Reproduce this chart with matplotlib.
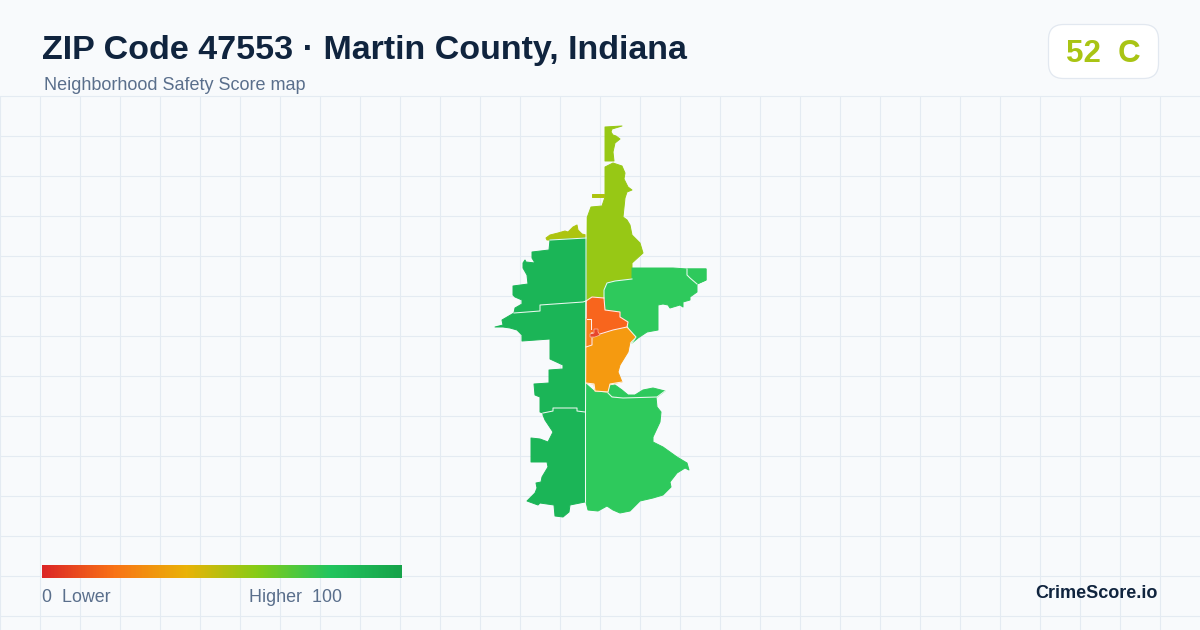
import numpy as np
import matplotlib
matplotlib.use("Agg")
import matplotlib.pyplot as plt
from matplotlib.colors import LinearSegmentedColormap
from matplotlib.patches import FancyBboxPatch, Polygon

plt.rcParams['font.family'] = ['Liberation Sans', 'DejaVu Sans']

# Text
title = "ZIP Code 47553 · Martin County, Indiana"
subtitle = "Neighborhood Safety Score map"
score_label = "52  C"
brand = "CrimeScore.io"
legend_left = "0  Lower"
legend_right = "Higher  100"

# Legend colour ramp
ramp_stops = [0, 0.2, 0.4, 0.6, 0.8, 1]
ramp_colors = ["#dc2626", "#f97316", "#eab308", "#84cc16", "#22c55e", "#16a34a"]

# Outlines, in pixels of the 1200x630 image
north_sliver = [(605, 127), (622, 126), (612, 129), (611, 132), (613, 135), (616, 136), (620, 139),
                (615, 143), (613, 152), (614, 161), (605, 161)]
north_main = [(605, 167), (613, 163), (622, 166), (625, 173), (624, 179), (628, 187), (632, 190),
              (627, 192), (625, 198), (623, 217), (627, 220), (630, 225), (632, 235), (640, 243),
              (643, 253), (632, 263), (632, 279), (615, 281), (607, 283), (604, 290), (604, 298),
              (592, 297), (586, 301), (587, 218), (591, 207), (602, 206), (605, 197)]
north_islet = [(592, 194), (604, 194), (604, 197), (592, 197)]
northwest_cap = [(546, 238), (550, 235), (558, 233), (565, 231), (568, 232), (573, 227), (577, 225),
                 (578, 230), (582, 234), (586, 235), (586, 238), (550, 240), (547, 240)]
west_north = [(550, 240), (586, 238), (586, 301), (583, 302), (540, 305), (540, 311), (514, 313),
              (515, 308), (522, 304), (522, 300), (515, 297), (513, 295), (513, 286), (528, 284),
              (527, 275), (523, 268), (523, 263), (525, 260), (526, 262), (535, 263), (532, 258),
              (532, 252), (549, 250)]
west_mid = [(514, 313), (540, 311), (540, 305), (583, 302), (585, 302), (585, 412), (577, 411),
            (577, 408), (553, 408), (553, 411), (543, 413), (540, 412), (540, 397), (535, 395),
            (534, 384), (549, 383), (549, 370), (563, 369), (563, 365), (550, 359), (550, 339),
            (522, 341), (522, 335), (517, 330), (510, 328), (503, 327), (495, 327), (503, 325),
            (502, 320)]
west_south = [(543, 413), (553, 411), (553, 408), (577, 408), (577, 411), (585, 412), (585, 502),
              (570, 505), (569, 512), (563, 517), (555, 516), (554, 505), (540, 503), (538, 505),
              (527, 501), (535, 493), (537, 488), (536, 483), (541, 482), (542, 477), (548, 467),
              (547, 462), (531, 462), (531, 438), (540, 439), (548, 442), (553, 432), (545, 420),
              (543, 415)]
east_north = [(632, 268), (673, 268), (687, 269), (706, 269), (706, 280), (697, 284), (697, 292),
              (690, 297), (690, 300), (683, 302), (683, 307), (680, 305), (670, 308), (668, 305),
              (663, 304), (658, 305), (658, 330), (647, 332), (638, 338), (632, 343), (636, 337),
              (629, 330), (628, 322), (620, 317), (620, 312), (605, 310), (604, 290), (607, 283),
              (615, 281), (632, 279)]
east_corner = [(687, 269), (706, 269), (706, 280), (697, 284), (690, 278), (687, 275)]
east_south = [(586, 384), (595, 392), (608, 393), (612, 397), (623, 398), (656, 397), (657, 407),
              (661, 412), (660, 422), (653, 437), (653, 442), (663, 447), (677, 457), (687, 463),
              (689, 470), (685, 468), (677, 473), (670, 482), (671, 487), (663, 495), (653, 498),
              (640, 501), (630, 511), (620, 513), (613, 510), (607, 506), (598, 511), (588, 510),
              (586, 502)]
east_south_strip = [(609, 386), (615, 385), (622, 390), (628, 395), (635, 395), (643, 390),
                    (653, 388), (665, 391), (657, 397), (623, 398), (612, 396), (608, 393)]
center_core = [(587, 301), (592, 297), (604, 298), (605, 310), (620, 312), (620, 317), (628, 322),
               (627, 327), (613, 330), (598, 335), (591, 331), (591, 319), (587, 319)]
center_west = [(586, 319), (591, 319), (592, 330), (590, 335), (593, 337), (592, 345), (586, 347)]
center_spot = [(590, 334), (594, 333), (594, 329), (598, 329), (598, 332), (600, 335), (595, 337),
               (590, 337)]
south_center = [(586, 347), (592, 345), (594, 337), (598, 335), (613, 330), (627, 327), (635, 337),
                (630, 342), (628, 352), (620, 365), (618, 372), (622, 382), (610, 384), (608, 392),
                (595, 391), (594, 384), (586, 383)]

# (outline, colour) in drawing order
regions = [
    (north_sliver, "#97c815"), (north_main, "#97c815"), (north_islet, "#adc40f"),
    (northwest_cap, "#adc40f"), (west_north, "#1bb557"), (west_mid, "#1bb557"),
    (west_south, "#1bb557"), (east_north, "#2ec95c"), (east_corner, "#2ec95c"),
    (east_south, "#2ec95c"), (east_south_strip, "#2ec95c"), (south_center, "#f59a10"),
    (center_west, "#f7801a"), (center_core, "#f8651d"),
]

# White lines between neighbouring areas
borders = [
    [(550, 240), (586, 238)],
    [(586, 218), (586, 301), (585.5, 412), (585.5, 502)],
    [(514, 313), (540, 311), (540, 305), (583, 302), (586, 301)],
    [(543, 413), (553, 411), (553, 408), (577, 408), (577, 411), (585, 412)],
    [(632, 279), (615, 281), (607, 283), (604, 290), (604, 298), (605, 310), (620, 312), (620, 317),
     (628, 322), (627, 327), (636, 337), (632, 343)],
    [(687, 269), (687, 275), (690, 278), (697, 284)],
    [(586, 301), (592, 297), (604, 298)],
    [(587, 319), (591, 319), (591, 329)],
    [(592, 338), (592, 345), (586, 347)],
    [(600, 334), (613, 330), (627, 327)],
    [(586, 383), (594, 384), (595, 391), (608, 392), (610, 384), (622, 382)],
    [(608, 393), (612, 397), (623, 398), (657, 397), (665, 391)],
]

fig = plt.figure(figsize=(12, 6.3), dpi=100, facecolor="#f8fafc")
ax = fig.add_axes([0, 0, 1, 1])
ax.set_facecolor("#f8fafc")

# Background grid, only below the header
for x in np.arange(0, 1200, 40):
    ax.plot([x + 0.5, x + 0.5], [96, 630], color="#e4ebf2", lw=0.8, zorder=1, snap=False,
            solid_capstyle="butt")
for y in np.arange(96, 630, 40):
    ax.plot([0, 1200], [y + 0.5, y + 0.5], color="#e4ebf2", lw=0.8, zorder=1, snap=False,
            solid_capstyle="butt")

for outline, color in regions:
    ax.add_patch(Polygon(outline, closed=True, facecolor=color, edgecolor=color,
                         lw=0.7, joinstyle="round", zorder=2))
for line in borders:
    xs, ys = zip(*line)
    ax.plot(xs, ys, color="white", lw=0.75, alpha=0.9, zorder=3, solid_joinstyle="round")

# Small red patch sits on top of the border lines
ax.add_patch(Polygon(center_spot, closed=True, facecolor="#e8452a", edgecolor="#fbd5c5",
                     lw=0.4, zorder=4))

# Legend bar
cmap = LinearSegmentedColormap.from_list("safety", list(zip(ramp_stops, ramp_colors)))
ax.imshow(np.linspace(0, 1, 360).reshape(1, -1), cmap=cmap, aspect="auto",
          extent=(42, 402, 578, 565), zorder=3)
ax.text(42, 598, legend_left, fontsize=12.9, color="#5a6f8c", va="center", ha="left", zorder=4)
ax.text(249, 598, legend_right, fontsize=12.9, color="#5a6f8c", va="center", ha="left", zorder=4)

# Header
ax.text(42, 50.5, title, fontsize=24.5, fontweight="bold", color="#10243e", va="center", ha="left")
ax.text(44, 86, subtitle, fontsize=13, color="#5a6f8c", va="center", ha="left")

# Score badge
ax.add_patch(FancyBboxPatch((1048.5, 24.5), 110, 54, boxstyle="round,pad=0,rounding_size=15",
                            facecolor="white", edgecolor="#e2e8f0", lw=0.9, zorder=3))
ax.text(1103, 53.5, score_label, fontsize=22.5, fontweight="bold", color="#a9c414",
        va="center", ha="center", zorder=4)

ax.text(1158, 594, brand, fontsize=13, fontweight="bold", color="#10243e", va="center", ha="right", zorder=4)

ax.set_xlim(0, 1200)
ax.set_ylim(630, 0)
ax.axis("off")

fig.savefig("out.png", dpi=100, facecolor=fig.get_facecolor())
